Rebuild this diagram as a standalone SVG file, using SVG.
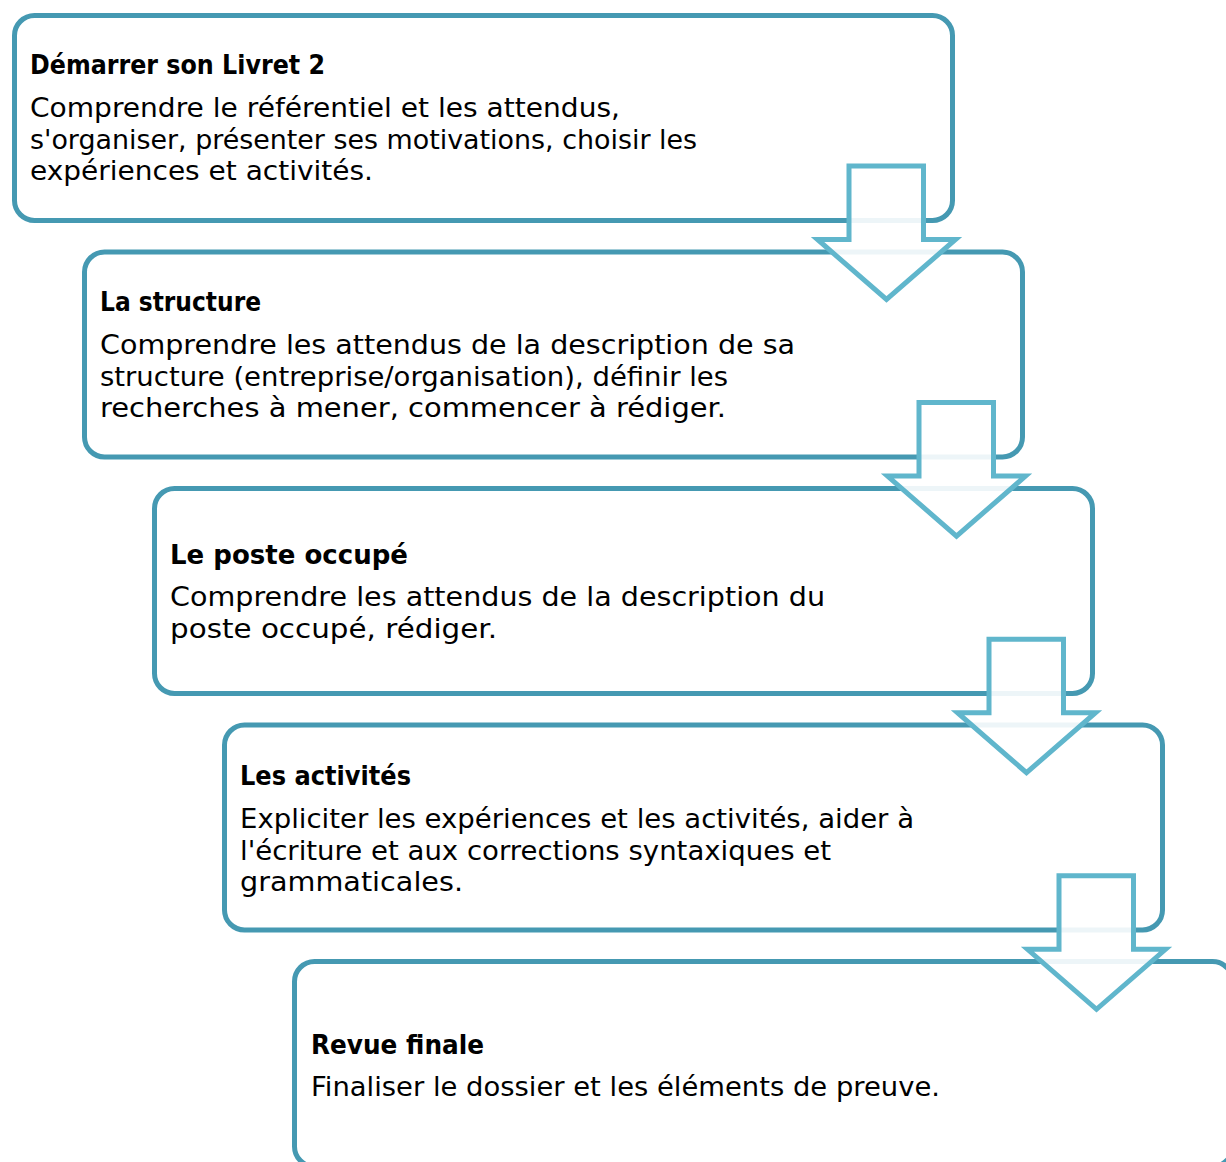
<svg xmlns="http://www.w3.org/2000/svg" width="1226" height="1162" viewBox="0 0 1226 1162">
<style>
.box{fill:#ffffff;stroke:#4599b2;stroke-width:5}
.arr{fill:#ffffff;fill-opacity:0.9;stroke:#60b6cc;stroke-width:5;stroke-linejoin:miter}
.t{font-family:"DejaVu Sans","Liberation Sans",sans-serif;font-size:27px;font-weight:bold;fill:#000}
.b{font-family:"DejaVu Sans","Liberation Sans",sans-serif;font-size:26px;fill:#000}
</style>
<rect width="1226" height="1162" fill="#ffffff"/>
<g id="node1">
<rect class="box" x="14.5" y="15.5" width="938" height="205" rx="20"/>
<text class="t" x="30" y="73.5" textLength="295" lengthAdjust="spacingAndGlyphs">Démarrer son Livret 2</text>
<text class="b" x="30" y="117" textLength="590" lengthAdjust="spacingAndGlyphs">Comprendre le référentiel et les attendus,</text>
<text class="b" x="30" y="148.5" textLength="667" lengthAdjust="spacingAndGlyphs">s'organiser, présenter ses motivations, choisir les</text>
<text class="b" x="30" y="180" textLength="343" lengthAdjust="spacingAndGlyphs">expériences et activités.</text>
</g>
<g id="node2">
<rect class="box" x="84.5" y="252" width="938" height="205" rx="20"/>
<text class="t" x="100" y="310.5" textLength="161" lengthAdjust="spacingAndGlyphs">La structure</text>
<text class="b" x="100" y="354" textLength="695" lengthAdjust="spacingAndGlyphs">Comprendre les attendus de la description de sa</text>
<text class="b" x="100" y="385.5" textLength="628" lengthAdjust="spacingAndGlyphs">structure (entreprise/organisation), définir les</text>
<text class="b" x="100" y="417" textLength="626" lengthAdjust="spacingAndGlyphs">recherches à mener, commencer à rédiger.</text>
</g>
<g id="node3">
<rect class="box" x="154.5" y="488.5" width="938" height="205" rx="20"/>
<text class="t" x="170" y="563.5" textLength="238" lengthAdjust="spacingAndGlyphs">Le poste occupé</text>
<text class="b" x="170" y="606" textLength="655" lengthAdjust="spacingAndGlyphs">Comprendre les attendus de la description du</text>
<text class="b" x="170" y="638" textLength="327" lengthAdjust="spacingAndGlyphs">poste occupé, rédiger.</text>
</g>
<g id="node4">
<rect class="box" x="224.5" y="725" width="938" height="205" rx="20"/>
<text class="t" x="240" y="784.5" textLength="171" lengthAdjust="spacingAndGlyphs">Les activités</text>
<text class="b" x="240" y="828" textLength="674" lengthAdjust="spacingAndGlyphs">Expliciter les expériences et les activités, aider à</text>
<text class="b" x="240" y="859.5" textLength="591" lengthAdjust="spacingAndGlyphs">l'écriture et aux corrections syntaxiques et</text>
<text class="b" x="240" y="891" textLength="223" lengthAdjust="spacingAndGlyphs">grammaticales.</text>
</g>
<g id="node5">
<rect class="box" x="294.5" y="961.5" width="938" height="205" rx="20"/>
<text class="t" x="311" y="1053.5" textLength="173" lengthAdjust="spacingAndGlyphs">Revue finale</text>
<text class="b" x="311" y="1096" textLength="629" lengthAdjust="spacingAndGlyphs">Finaliser le dossier et les éléments de preuve.</text>
</g>
<g id="connectors">
<path class="arr" d="M849,166 H923.5 V239.5 H955.5 L886.5,299.5 L817.5,239.5 H849 Z"/>
<path class="arr" transform="translate(70,236.6)" d="M849,166 H923.5 V239.5 H955.5 L886.5,299.5 L817.5,239.5 H849 Z"/>
<path class="arr" transform="translate(140,473.2)" d="M849,166 H923.5 V239.5 H955.5 L886.5,299.5 L817.5,239.5 H849 Z"/>
<path class="arr" transform="translate(210,709.8)" d="M849,166 H923.5 V239.5 H955.5 L886.5,299.5 L817.5,239.5 H849 Z"/>
</g>
</svg>
